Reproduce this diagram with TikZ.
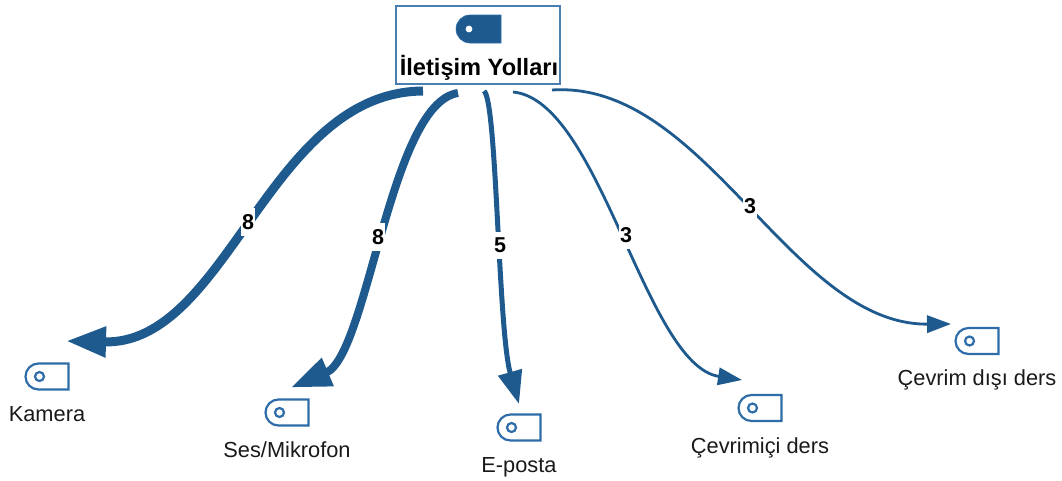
\documentclass[tikz,border=0pt]{standalone}
\usepackage{fontspec}
\setmainfont{Liberation Sans}
\usetikzlibrary{arrows.meta}
\definecolor{edgeblue}{HTML}{1F5A8F}
\definecolor{iconblue}{HTML}{2E6DA9}
\definecolor{boxblue}{HTML}{4A7FB2}
\tikzset{
  iconbox/.style={minimum width=43pt,minimum height=26pt,inner sep=0pt,outer sep=0pt},
  iconline/.style={draw=iconblue,line width=2.2pt},
  lab/.style={anchor=base,font=\fontsize{21.8pt}{24pt}\selectfont,text=black!90,inner sep=0pt},
  weight/.style={fill=white,font=\bfseries\fontsize{21.5pt}{24pt}\selectfont,inner xsep=1.5pt,inner ysep=6pt,text=black},
  edge/.style 2 args={draw=edgeblue,line width=#1,-{Triangle[length=#2,width=0.72*#2]}},
}
\newcommand{\ticon}[3]{%
  \node[iconbox] (#1) at (#2,#3) {};
  \draw[iconline] (#1.north east) -- ++(-30,0) arc (270:90:13) -- (#1.south east) -- cycle;
  \draw[iconline] (#1.west) ++(14,0) circle (4.5);
}
\begin{document}
\begin{tikzpicture}[x=1pt,y=-1pt]
\useasboundingbox (0,0) rectangle (1062,480);
\node[draw=boxblue,line width=1.3pt,minimum width=164pt,minimum height=78pt,inner sep=0pt,outer sep=0pt] (root) at (478,45) {};
\fill[edgeblue,draw=iconblue,line width=.6pt] (501,15) -- (470,15) arc (270:90:14) -- (501,43) -- cycle;
\fill[white] (469,29) circle (3.4);
\node[lab,font=\bfseries\fontsize{23.6pt}{26pt}\selectfont,text=black] (roottext) at (479,75) {İletişim Yolları};
\ticon{kam}{47}{376.5}
\ticon{ses}{287}{412.5}
\ticon{epo}{519}{427.5}
\ticon{cev}{760}{408}
\ticon{dis}{977}{341}
\node[lab] (kamt) at (47,421) {Kamera};
\node[lab] (sest) at (287,457) {Ses/Mikrofon};
\node[lab] (epot) at (519,472) {E-posta};
\node[lab] (cevt) at (760,453) {Çevrimiçi ders};
\node[lab] (dist) at (977,385) {Çevrim dışı ders};
\draw[edge={9pt}{40pt}] ([shift={(-55,7)}]root.south) .. controls (268,92) and (228,345) .. ([shift={(19,-22.5)}]kam.north);
\draw[edge={8pt}{40pt}] ([shift={(-20,9)}]root.south) .. controls (390,103) and (368,355) .. ([shift={(4,-12)}]ses.north);
\draw[edge={5pt}{33pt}] ([shift={(6,7)}]root.south) .. controls (497,100) and (498,330) .. ([shift={(0,-10.5)}]epo.north);
\draw[edge={2.8pt}{24pt}] ([shift={(35,8)}]root.south) .. controls (600,100) and (645,365) .. ([shift={(-18,-15)}]cev.north);
\draw[edge={2.8pt}{24pt}] ([shift={(74,6)}]root.south) .. controls (705,80) and (790,325) .. ([shift={(-26,-4)}]dis.north);
\node[weight] (w1) at (248,222) {8};
\node[weight] (w2) at (378,237) {8};
\node[weight] (w3) at (500,245) {5};
\node[weight] (w4) at (626,235) {3};
\node[weight] (w5) at (750,206) {3};
\end{tikzpicture}
\end{document}
